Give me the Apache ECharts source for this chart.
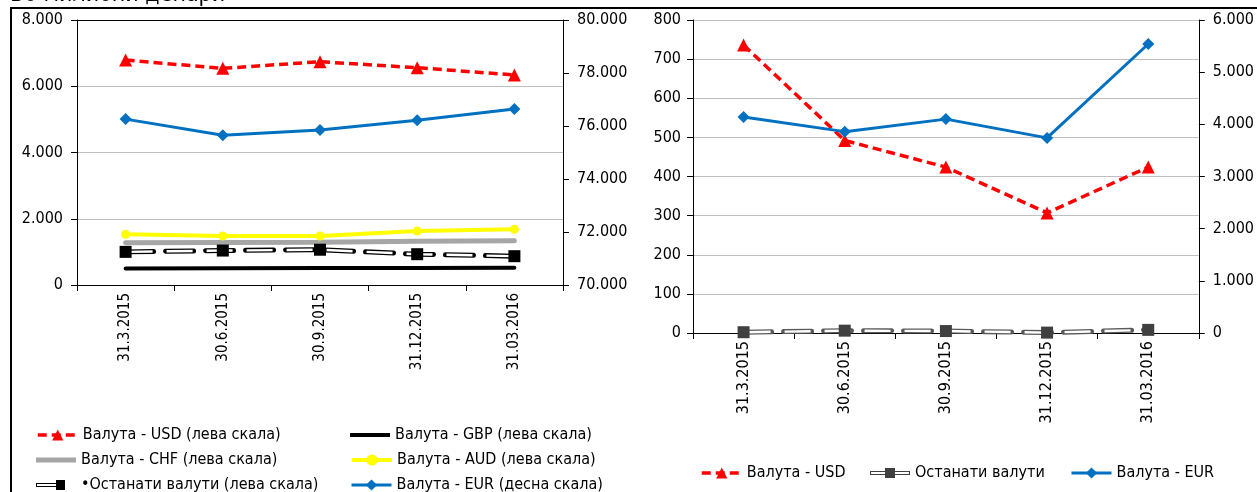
<!DOCTYPE html>
<html>
<head>
<meta charset="utf-8">
<script src="https://cdn.jsdelivr.net/npm/echarts@6/dist/echarts.min.js"></script>
<style>
  html, body { margin: 0; padding: 0; background: #fff; }
  #chart { width: 1257px; height: 492px; }
</style>
</head>
<body>
<div id="chart"></div>
<script>
const categories = ['31.3.2015', '30.6.2015', '30.9.2015', '31.12.2015', '31.03.2016']

// лев график (лева скала)
const usdLeft = [6790, 6540, 6740, 6560, 6340]
const gbpLeft = [500, 505, 510, 515, 520]
const chfLeft = [1275, 1285, 1290, 1320, 1335]
const audLeft = [1530, 1480, 1480, 1630, 1680]
const otherLeft = [1000, 1040, 1065, 930, 870]
// лев график (десна скала)
const eurLeft = [76260, 75650, 75850, 76220, 76640]

// десен график
const usdRight = [736, 492, 424, 307, 424]
const otherRight = [2, 6, 5, 1, 8]
const eurRight = [4140, 3860, 4100, 3740, 5540]

// скали [min, max, interval]
const leftScaleA = [0, 8000, 2000]
const rightScaleA = [70000, 80000, 2000]
const leftScaleB = [0, 800, 100]
const rightScaleB = [0, 6000, 1000]

const FONT = "'DejaVu Sans Condensed', 'DejaVu Sans', sans-serif"
const fmt = v => String(v).replace(/\B(?=(\d{3})+(?!\d))/g, '.')

const names = {
  usd: 'Валута - USD (лева скала)',
  gbp: 'Валута - GBP (лева скала)',
  chf: 'Валута - CHF (лева скала)',
  aud: 'Валута - AUD (лева скала)',
  oth: 'Останати валути (лева скала)',
  eur: 'Валута - EUR (десна скала)',
  usd2: 'Валута - USD',
  oth2: 'Останати валути',
  eur2: 'Валута - EUR'
}

// икони за легендата (двојна линија со квадрат)
const iconOtherLeft = 'path://M0,0M40,14M0,5h22v4h-22zM1,6v2h20v-2zM20,2h9v10h-9z'
const iconOtherRight = 'path://M0,0M40,14M0,5h40v4h-40zM1,6v2h38v-2zM15,2h10v10h-10z'

const xAxisBottom = (grid, size) => ({
  type: 'category', gridIndex: grid, data: categories, position: 'bottom',
  axisLine: { lineStyle: { color: '#000', width: 1 } },
  axisTick: { show: true, length: 6, lineStyle: { color: '#000' } },
  axisLabel: { rotate: 90, color: '#000', fontFamily: FONT, fontSize: size, margin: 8 }
})
const xAxisTop = grid => ({
  type: 'category', gridIndex: grid, data: categories, position: 'top',
  axisLine: { lineStyle: { color: '#000', width: 1 } },
  axisTick: { show: false }, axisLabel: { show: false }
})
const yAxis = (grid, pos, scale, split, margin) => ({
  type: 'value', gridIndex: grid, position: pos,
  min: scale[0], max: scale[1], interval: scale[2],
  axisLine: { show: true, lineStyle: { color: '#000' } },
  axisTick: { show: true, inside: false, length: 6, lineStyle: { color: '#000' } },
  axisLabel: { color: '#000', fontFamily: FONT, fontSize: 16, margin, formatter: fmt },
  splitLine: { show: split, lineStyle: { color: '#bfbfbf', width: 1 } }
})

// една ставка на легенда на точно место
const leg = (item, left, top, lw, fmtFn) => ({
  left, top, padding: 0, itemWidth: 40, itemHeight: 14,
  textStyle: { color: '#000', fontFamily: FONT, fontSize: 16 },
  lineStyle: { width: lw || 'inherit' },
  formatter: fmtFn || (n => n),
  data: [item]
})

// двојна линија (бела со темен раб) + квадратни маркери
const doubleLine = (name, data, xi, yi, edge, mark) => [
  {
    name, type: 'line', data, xAxisIndex: xi, yAxisIndex: yi,
    symbol: 'rect', showSymbol: false, color: mark,
    lineStyle: { color: edge, width: 5, type: [28, 12], cap: 'round' }
  },
  {
    name, type: 'line', data, xAxisIndex: xi, yAxisIndex: yi,
    symbol: 'none', color: mark,
    lineStyle: { color: '#fff', width: 2.4, type: [26, 14], dashOffset: -1 }
  },
  {
    name, type: 'line', data, xAxisIndex: xi, yAxisIndex: yi,
    symbol: 'rect', symbolSize: 12, showSymbol: true, color: mark,
    lineStyle: { width: 0, opacity: 0 }, itemStyle: { color: mark }
  }
]

const chart = echarts.init(document.getElementById('chart'))

const option = {
  backgroundColor: '#fff',
  animation: false,
  textStyle: { fontFamily: FONT },
  grid: [
    { left: 77, top: 20, width: 486, height: 265 },
    { left: 693, top: 20, width: 506, height: 313 }
  ],
  xAxis: [xAxisBottom(0, 15), xAxisTop(0), xAxisBottom(1, 16), xAxisTop(1)],
  yAxis: [
    yAxis(0, 'left', leftScaleA, true, 14),
    yAxis(0, 'right', rightScaleA, false, 14),
    yAxis(1, 'left', leftScaleB, true, 12),
    yAxis(1, 'right', rightScaleB, false, 14)
  ],
  legend: [
    leg(names.usd, 36, 427, 3.5),
    leg({ name: names.gbp, icon: 'path://M0,0h40v4h-40z' }, 350, 427),
    leg({ name: names.chf, icon: 'path://M0,0h40v5h-40z' }, 36, 452),
    leg(names.aud, 350, 452, 4),
    leg({ name: names.oth, icon: iconOtherLeft }, 36, 477, 0, n => '•' + n),
    leg(names.eur, 350, 477, 3),
    leg(names.usd2, 700, 465, 3.5),
    leg({ name: names.oth2, icon: iconOtherRight }, 870, 465),
    leg(names.eur2, 1070, 465, 3)
  ],
  series: [
    {
      name: names.usd, type: 'line', data: usdLeft, xAxisIndex: 0, yAxisIndex: 0,
      color: '#ff0000', symbol: 'triangle', symbolSize: 13,
      lineStyle: { width: 3.5, type: [9, 5] }
    },
    {
      name: names.gbp, type: 'line', data: gbpLeft, xAxisIndex: 0, yAxisIndex: 0,
      color: '#000', symbol: 'none', lineStyle: { width: 4, cap: 'round' }
    },
    {
      name: names.chf, type: 'line', data: chfLeft, xAxisIndex: 0, yAxisIndex: 0,
      color: '#a6a6a6', symbol: 'none', lineStyle: { width: 5, cap: 'round' }
    },
    {
      name: names.aud, type: 'line', data: audLeft, xAxisIndex: 0, yAxisIndex: 0,
      color: '#ffff00', symbol: 'circle', symbolSize: 9, lineStyle: { width: 4 }
    },
    ...doubleLine(names.oth, otherLeft, 0, 0, '#000', '#000'),
    {
      name: names.eur, type: 'line', data: eurLeft, xAxisIndex: 0, yAxisIndex: 1,
      color: '#0070c0', symbol: 'diamond', symbolSize: 12, lineStyle: { width: 3 }
    },

    {
      name: names.usd2, type: 'line', data: usdRight, xAxisIndex: 2, yAxisIndex: 2,
      color: '#ff0000', symbol: 'triangle', symbolSize: 13,
      lineStyle: { width: 3.5, type: [9, 5] }
    },
    ...doubleLine(names.oth2, otherRight, 2, 2, '#595959', '#404040'),
    {
      name: names.eur2, type: 'line', data: eurRight, xAxisIndex: 2, yAxisIndex: 3,
      color: '#0070c0', symbol: 'diamond', symbolSize: 12, lineStyle: { width: 3 }
    }
  ],
  graphic: [
    {
      type: 'text', left: 10, top: -16,
      style: { text: 'Во милиони денари', fill: '#000', font: "23px 'DejaVu Sans Condensed', 'DejaVu Sans'" }
    },
    { type: 'line', shape: { x1: 10, y1: 8, x2: 1257, y2: 8 }, style: { stroke: '#000', lineWidth: 2 } },
    { type: 'line', shape: { x1: 11, y1: 8, x2: 11, y2: 492 }, style: { stroke: '#000', lineWidth: 2 } }
  ]
}

chart.setOption(option)
</script>
</body>
</html>
